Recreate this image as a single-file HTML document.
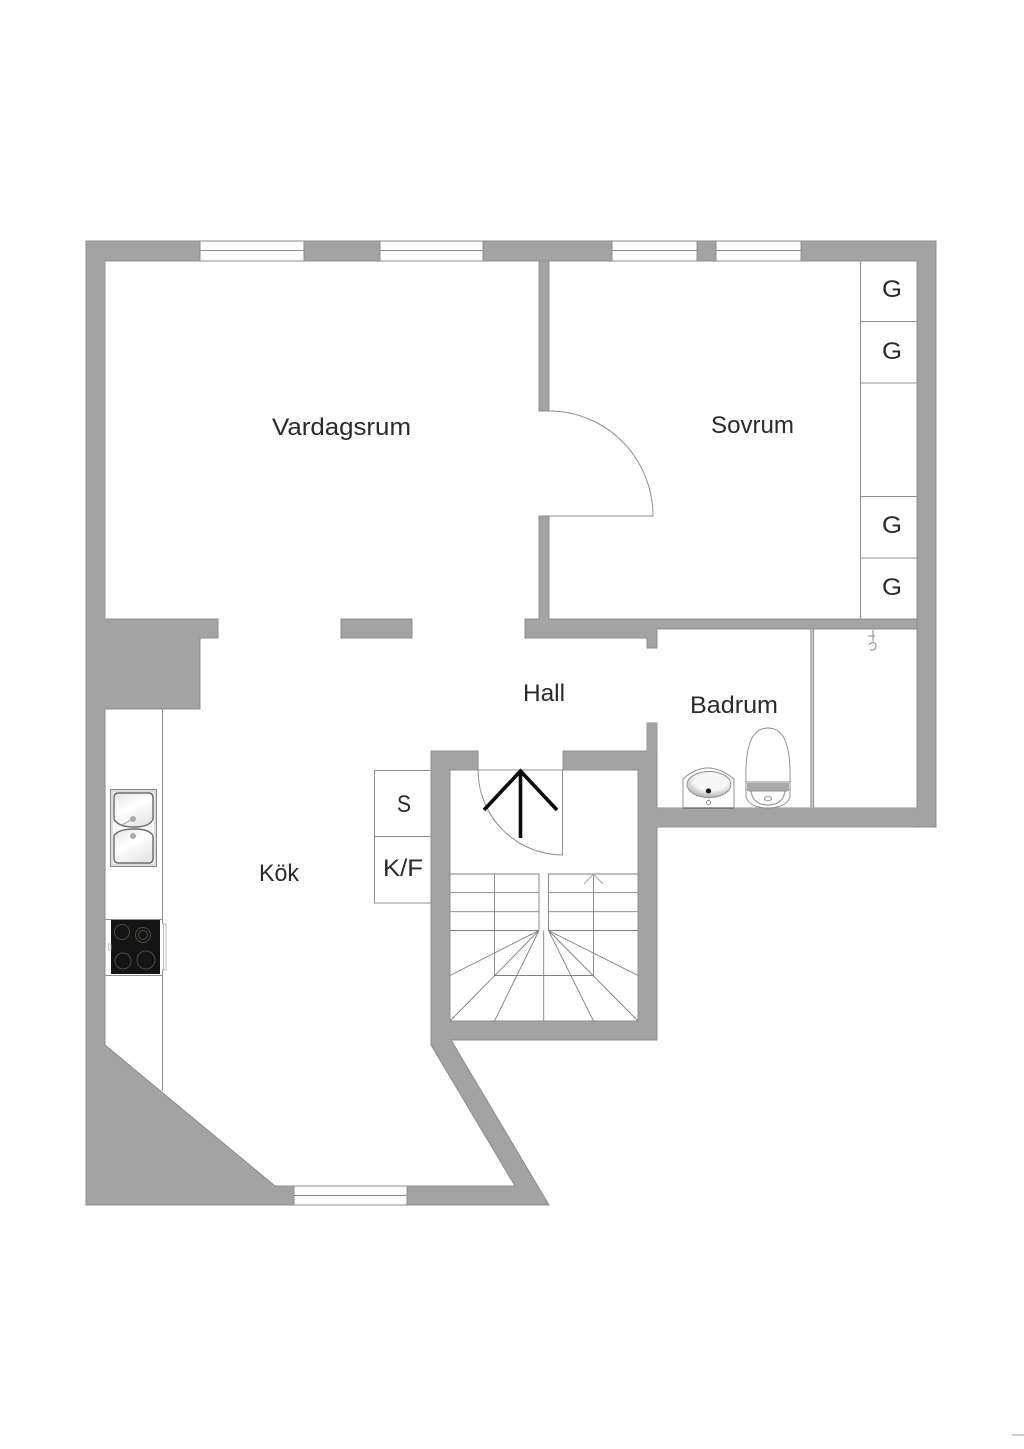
<!DOCTYPE html>
<html><head><meta charset="utf-8"><style>
html,body{margin:0;padding:0;background:#fff}
svg{display:block}
text{font-family:"Liberation Sans",sans-serif;fill:#2a2a2a;font-size:24px;text-anchor:start}
</style></head><body>
<svg width="1024" height="1449" viewBox="0 0 1024 1449" xmlns="http://www.w3.org/2000/svg">
<defs>
<linearGradient id="bowl" x1="0" y1="0" x2="0.6" y2="1"><stop offset="0" stop-color="#e4e4e4"/><stop offset="0.5" stop-color="#fff"/><stop offset="1" stop-color="#e8e8e8"/></linearGradient>
<radialGradient id="basin" cx="0.55" cy="0.35" r="0.75"><stop offset="0.5" stop-color="#f7f7f7"/><stop offset="1" stop-color="#9c9c9c"/></radialGradient>
</defs>
<rect width="1024" height="1449" fill="#fff"/>
<!-- outer wall mass -->
<path d="M86 241H936V827H657V1040H451L549 1205H86Z" fill="#a3a3a3" stroke="#8c8c8c" stroke-width="1"/>
<!-- interior -->
<path d="M105 261H917V808H657V723H647V751H563V770H638V1021H450V770H478V751H431V1045L515 1186H275L105 1045V709H200V638H218V619H105Z" fill="#fff" stroke="#8c8c8c" stroke-width="1"/>
<!-- interior walls -->
<g fill="#a3a3a3" stroke="#8c8c8c" stroke-width="1">
<path d="M539 261H549V411H539Z"/>
<path d="M539 516H549V619H917V629H657V648H647V638H525V619H539Z"/>
<rect x="341" y="619" width="71" height="19"/>
<path d="M647 723H657V808H917V827H657V751H647Z" stroke="none"/>
</g>
<rect x="100" y="261" width="5" height="358" fill="#a3a3a3"/>
<rect x="105" y="619" width="1" height="90" fill="#a3a3a3"/>
<!-- windows -->
<g fill="#fff" stroke="#8c8c8c" stroke-width="1">
<rect x="200" y="241" width="104" height="20"/><rect x="380" y="241" width="103" height="20"/>
<rect x="612" y="241" width="85" height="20"/><rect x="716" y="241" width="85" height="20"/>
<rect x="294" y="1186" width="113" height="19"/>
<path d="M200 250.5H304M380 250.5H483M612 250.5H697M716 250.5H801M294 1195.5H407" fill="none"/>
</g>
<!-- closets & fixtures lines -->
<g fill="none" stroke="#8f8f8f" stroke-width="1">
<path d="M860.5 261V619M860 321.5H917M860 383H917M860 496.5H917M860 558H917"/>
<path d="M162.5 709V1091"/>
<path d="M431 770.5H374.5V903H431M374 836.5H431"/>
<path d="M549 411A104 105 0 0 1 653 516H549"/>
<path d="M478 770A85 85 0 0 0 562.5 855V770H478"/>
<path d="M105 919.5H162M105 975.5H162"/>
</g>
<!-- arrow -->
<path d="M520.5 838V771M484 810L520.5 771L557 810" fill="none" stroke="#0a0a0a" stroke-width="3.6"/>
<!-- stairs -->
<g fill="none" stroke="#808080" stroke-width="0.9">
<path d="M450 874H539V930.5M450 892.7H539M450 911.7H539M450 930.5H539"/>
<path d="M638 874H548.5V930.5M638 892.7H548.5M638 911.7H548.5M638 930.5H548.5"/>
<path d="M494.5 874V975.5H593.5V874M543.7 930.5V1021"/>
<path d="M539 930.5L450 975.5M539 930.5L450 1021M539 930.5L494.5 1021M548.5 930.5L638 975.5M548.5 930.5L638 1021M548.5 930.5L593.5 1021"/>
</g>
<path d="M584 884L593.5 874L603 884" fill="none" stroke="#a8a8a8" stroke-width="1"/>
<!-- bathroom partition -->
<rect x="811" y="629" width="2.5" height="179" fill="#c4c4c4"/>
<path d="M810.800 629V808M813.700 629V808" stroke="#909090" stroke-width="0.9"/>
<!-- shower fixture -->
<g fill="none" stroke="#9a9a9a" stroke-width="1.2">
<path d="M873 630V641M868 636H875M869 645Q873 640 876 645Q876 651 870 650"/>
</g>
<!-- toilet -->
<g stroke="#8a8a8a" stroke-width="0.9">
<path d="M746 782C745 750 750 728 768 728C786 728 791 750 790 782Z" fill="#fff"/>
<path d="M746 782H790V797Q786 808 768 808Q750 808 746 797Z" fill="#fff"/>
<path d="M747 783H789V791L785 792H751L747 791Z" fill="#a8a8a8" stroke="none"/>
<path d="M751 791H785Q783 805 768 805Q753 805 751 791Z" fill="#fff"/>
<ellipse cx="768" cy="798.500" rx="3.500" ry="2.300" fill="#fff"/>
</g>
<!-- basin -->
<g stroke="#8a8a8a" stroke-width="0.9">
<path d="M683 808V779Q707 757 734 779V808Z" fill="#fff"/>
<path d="M683 808H734" stroke="#666" stroke-width="1.2"/>
<ellipse cx="709" cy="784.500" rx="22" ry="13" fill="url(#basin)"/>
<circle cx="708.500" cy="791" r="2.600" fill="#111" stroke="none"/>
<path d="M708.500 793V799" stroke="#bbb" stroke-width="1.500"/>
<circle cx="708.500" cy="802.500" r="2" fill="#fff"/>
</g>
<!-- sink -->
<g>
<rect x="110.500" y="789.500" width="46" height="77" fill="#f2f2f2" stroke="#8a8a8a" stroke-width="1"/>
<rect x="112" y="791" width="43" height="74" fill="#f8f8f8" stroke="#bdbdbd" stroke-width="0.8"/>
<path d="M118 793H149Q153 793 153 798V819Q150 827 134 827Q118 827 114 819V798Q114 793 118 793Z" fill="url(#bowl)" stroke="#6a6a6a" stroke-width="1.400"/>
<path d="M134 829Q150 829 153 836V858Q153 863 149 863H118Q114 863 114 858V836Q118 829 134 829Z" fill="url(#bowl)" stroke="#6a6a6a" stroke-width="1.400"/>
<circle cx="133" cy="819" r="3" fill="#aaa"/><circle cx="133" cy="836" r="3" fill="#aaa"/>
<path d="M122 825L131 820" stroke="#999" stroke-width="1"/>
</g>
<!-- stove -->
<rect x="111" y="920" width="49" height="54" fill="#141414"/>
<g fill="none" stroke="#4e4a42" stroke-width="1">
<circle cx="122" cy="932" r="7.500"/>
<circle cx="143" cy="935" r="7.500"/><circle cx="143" cy="935" r="4.500"/>
<circle cx="123" cy="961" r="8"/>
<circle cx="146" cy="960" r="9"/>
</g>
<path d="M162 924H166V970H162M163.500 924V970" fill="#fff" stroke="#aaa" stroke-width="0.8"/>
<rect x="108.500" y="944" width="2.500" height="6" fill="#fff" stroke="#aaa" stroke-width="0.7"/>
<!-- labels -->
<text x="272" y="435" textLength="139" lengthAdjust="spacingAndGlyphs">Vardagsrum</text>
<text x="711" y="433" textLength="83" lengthAdjust="spacingAndGlyphs">Sovrum</text>
<text x="523" y="701" textLength="42" lengthAdjust="spacingAndGlyphs">Hall</text>
<text x="690" y="713" textLength="88" lengthAdjust="spacingAndGlyphs">Badrum</text>
<text x="259" y="881" textLength="40" lengthAdjust="spacingAndGlyphs">Kök</text>
<text x="397" y="812" textLength="14" lengthAdjust="spacingAndGlyphs">S</text>
<text x="383" y="876" textLength="40" lengthAdjust="spacingAndGlyphs">K/F</text>
<text x="882" y="297" textLength="20" lengthAdjust="spacingAndGlyphs">G</text>
<text x="882" y="359" textLength="20" lengthAdjust="spacingAndGlyphs">G</text>
<text x="882" y="533" textLength="20" lengthAdjust="spacingAndGlyphs">G</text>
<text x="882" y="595" textLength="20" lengthAdjust="spacingAndGlyphs">G</text>
<path d="M1012 1435H1024" stroke="#999" stroke-width="1"/>
</svg>
</body></html>
